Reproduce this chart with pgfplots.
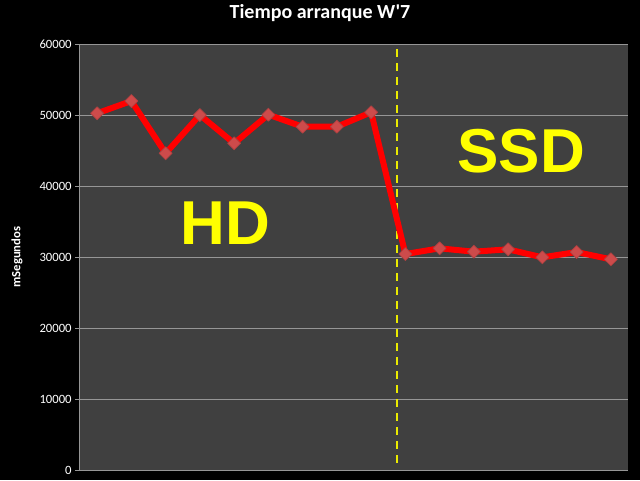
\documentclass[border=0pt]{standalone}
\usepackage{pgfplots}
\pgfplotsset{compat=1.18}
\usepackage{fontspec}
\setmainfont{Carlito}
\newfontfamily\titlefont{Carlito}[Ligatures=TeXOff]
\newfontfamily\arialfont{Liberation Sans}
\definecolor{plotbg}{RGB}{64,64,64}
\definecolor{gridc}{RGB}{150,150,150}
\definecolor{markc}{RGB}{205,75,75}
\definecolor{ylw}{RGB}{255,255,0}
\definecolor{dashc}{RGB}{235,235,0}
\begin{document}
\begin{tikzpicture}
\fill[black] (0,0) rectangle (480pt,360pt);
\begin{axis}[
 at={(60pt,7.5pt)}, anchor=south west, scale only axis,
 width=411pt, height=319.5pt,
 xmin=-0.5, xmax=15.5, ymin=0, ymax=60000,
 ytick={0,10000,...,60000}, xtick=\empty,
 axis background/.style={fill=plotbg},
 axis x line*=bottom, axis y line*=left,
 axis line style={gridc, line width=0.75pt, -},
 ymajorgrids, grid style={gridc, line width=0.75pt},
 tick align=outside, major tick length=3.75pt,
 ytick style={gridc, line width=0.75pt},
 /pgf/number format/assume math mode=true,
 /pgf/number format/1000 sep={},
 scaled y ticks=false,
 yticklabel style={font=\fontsize{9.5pt}{10pt}\selectfont, text=white, xshift=1pt},
 title={Tiempo arranque W'7},
 title style={font=\titlefont\bfseries\fontsize{15pt}{18pt}\selectfont, text=white,
   at={(rel axis cs:0.438,1)}, anchor=base, yshift=13.5pt, inner sep=0pt},
 ylabel={mSegundos},
 every axis y label/.style={at={(rel axis cs:-0.115,0.5)}, rotate=90, anchor=center,
   font=\bfseries\fontsize{9.5pt}{10pt}\selectfont, text=white},
 clip=false,
]
\addplot[dashc, line width=1.5pt, dash pattern=on 6pt off 4.5pt]
  coordinates {(8.76,1000) (8.76,59400)};
\addplot[red, line width=4.5pt, line join=round,
  mark=square*, mark size=3.45pt,
  mark options={rotate=45, fill=markc, draw=markc!85!black, line width=0.5pt, solid}]
  coordinates {
  (0,50240) (1,51970) (2,44600) (3,50000) (4,46010) (5,50050) (6,48350) (7,48350)
  (8,50380) (9,30420) (10,31220) (11,30750) (12,31080) (13,29950) (14,30700) (15,29670)
  };
\node[font=\arialfont\bfseries\fontsize{46.5pt}{50pt}\selectfont, text=ylw, inner sep=0pt]
  at (axis cs:3.74,34800) {HD};
\node[font=\arialfont\bfseries\fontsize{46.5pt}{50pt}\selectfont, text=ylw, inner sep=0pt]
  at (axis cs:12.38,44900) {SSD};
\end{axis}
\end{tikzpicture}
\end{document}
